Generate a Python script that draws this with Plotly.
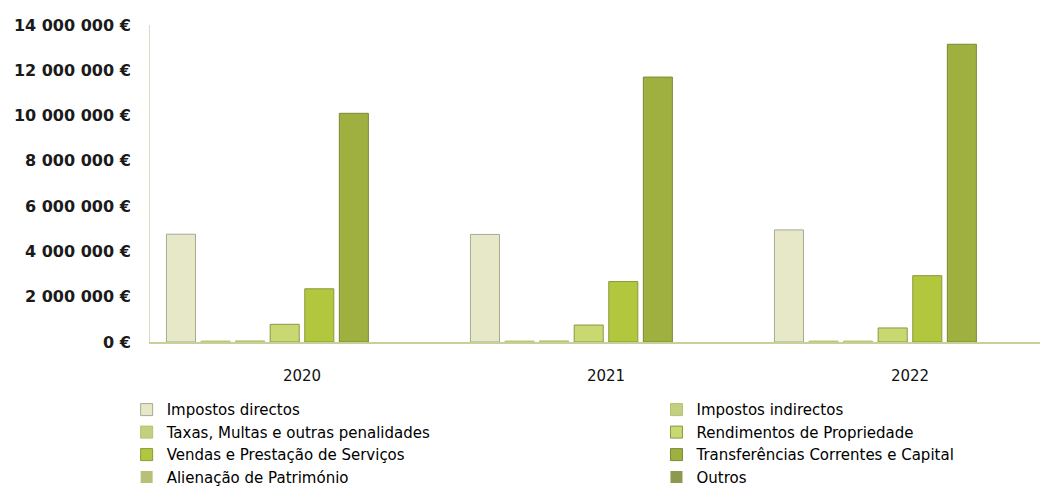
import plotly.graph_objects as go

# Receitas por ano (€)
anos = ["2020", "2021", "2022"]

impostos_directos = [4760000, 4750000, 4950000]
impostos_indirectos = [40000, 40000, 40000]
taxas_multas = [50000, 50000, 40000]
rendimentos_propriedade = [780000, 750000, 620000]
vendas_servicos = [2350000, 2670000, 2930000]
transferencias = [10100000, 11700000, 13150000]
alienacao_patrimonio = [0, 0, 0]
outros = [0, 0, 0]

y_tickvals = [0, 2000000, 4000000, 6000000, 8000000, 10000000, 12000000, 14000000]
y_ticktext = ["0 €", "2 000 000 €", "4 000 000 €", "6 000 000 €",
              "8 000 000 €", "10 000 000 €", "12 000 000 €", "14 000 000 €"]

# (nome, valores, cor, contorno, espessura contorno, legenda)
SERIES = [
    ("Impostos directos", impostos_directos, "#e6e8c8", "#a8a898", 1, "legend"),
    ("Impostos indirectos", impostos_indirectos, "#c4d080", "#b4c270", 1, "legend2"),
    ("Taxas, Multas e outras penalidades", taxas_multas, "#c4d080", "#b4c270", 1, "legend"),
    ("Rendimentos de Propriedade", rendimentos_propriedade, "#cad872", "#8c9648", 1, "legend2"),
    ("Vendas e Prestação de Serviços", vendas_servicos, "#b2c63e", "#8a9a3a", 1, "legend"),
    ("Transferências Correntes e Capital", transferencias, "#9fb040", "#7a8a34", 1, "legend2"),
    ("Alienação de Património", alienacao_patrimonio, "#b8c078", "#b8c078", 0, "legend"),
    ("Outros", outros, "#8c9a50", "#8c9a50", 0, "legend2"),
]

FONT = "DejaVu Sans"

fig = go.Figure()
for nome, vals, cor, contorno, esp, leg in SERIES:
    fig.add_trace(go.Bar(
        x=anos, y=vals, name=nome,
        marker=dict(color=cor, line=dict(color=contorno, width=esp)),
        legend=leg,
    ))

leg_cfg = dict(
    orientation="v",
    yanchor="top",
    bgcolor="rgba(0,0,0,0)",
    font=dict(family=FONT, size=15, color="#000000"),
    itemwidth=30,
    tracegroupgap=0,
)

fig.update_layout(
    width=1040, height=491,
    paper_bgcolor="white", plot_bgcolor="white",
    barmode="group",
    bargap=0.09, bargroupgap=0.16,
    margin=dict(l=142, r=0, t=17, b=157),
    font=dict(family=FONT, size=14, color="#1a1a1a"),
    legend=dict(x=-0.026, y=-0.162, **leg_cfg),
    legend2=dict(x=0.564, y=-0.162, **leg_cfg),
)

fig.update_xaxes(
    type="category",
    range=[-0.5, 2.454],
    showgrid=False,
    showline=True, linecolor="#c8d09a", linewidth=2,
    ticks="", tickfont=dict(family=FONT, size=15, color="#111111"),
    ticklabelstandoff=19,
)
fig.update_yaxes(
    range=[0, 14000000],
    tickvals=y_tickvals, ticktext=y_ticktext,
    showgrid=False, zeroline=False,
    showline=True, linecolor="#d8dcc8", linewidth=1,
    ticks="", ticklabelstandoff=15,
    tickfont=dict(family=FONT, size=16, color="#1a1a1a", weight="bold"),
)

fig.write_html("out.html")
